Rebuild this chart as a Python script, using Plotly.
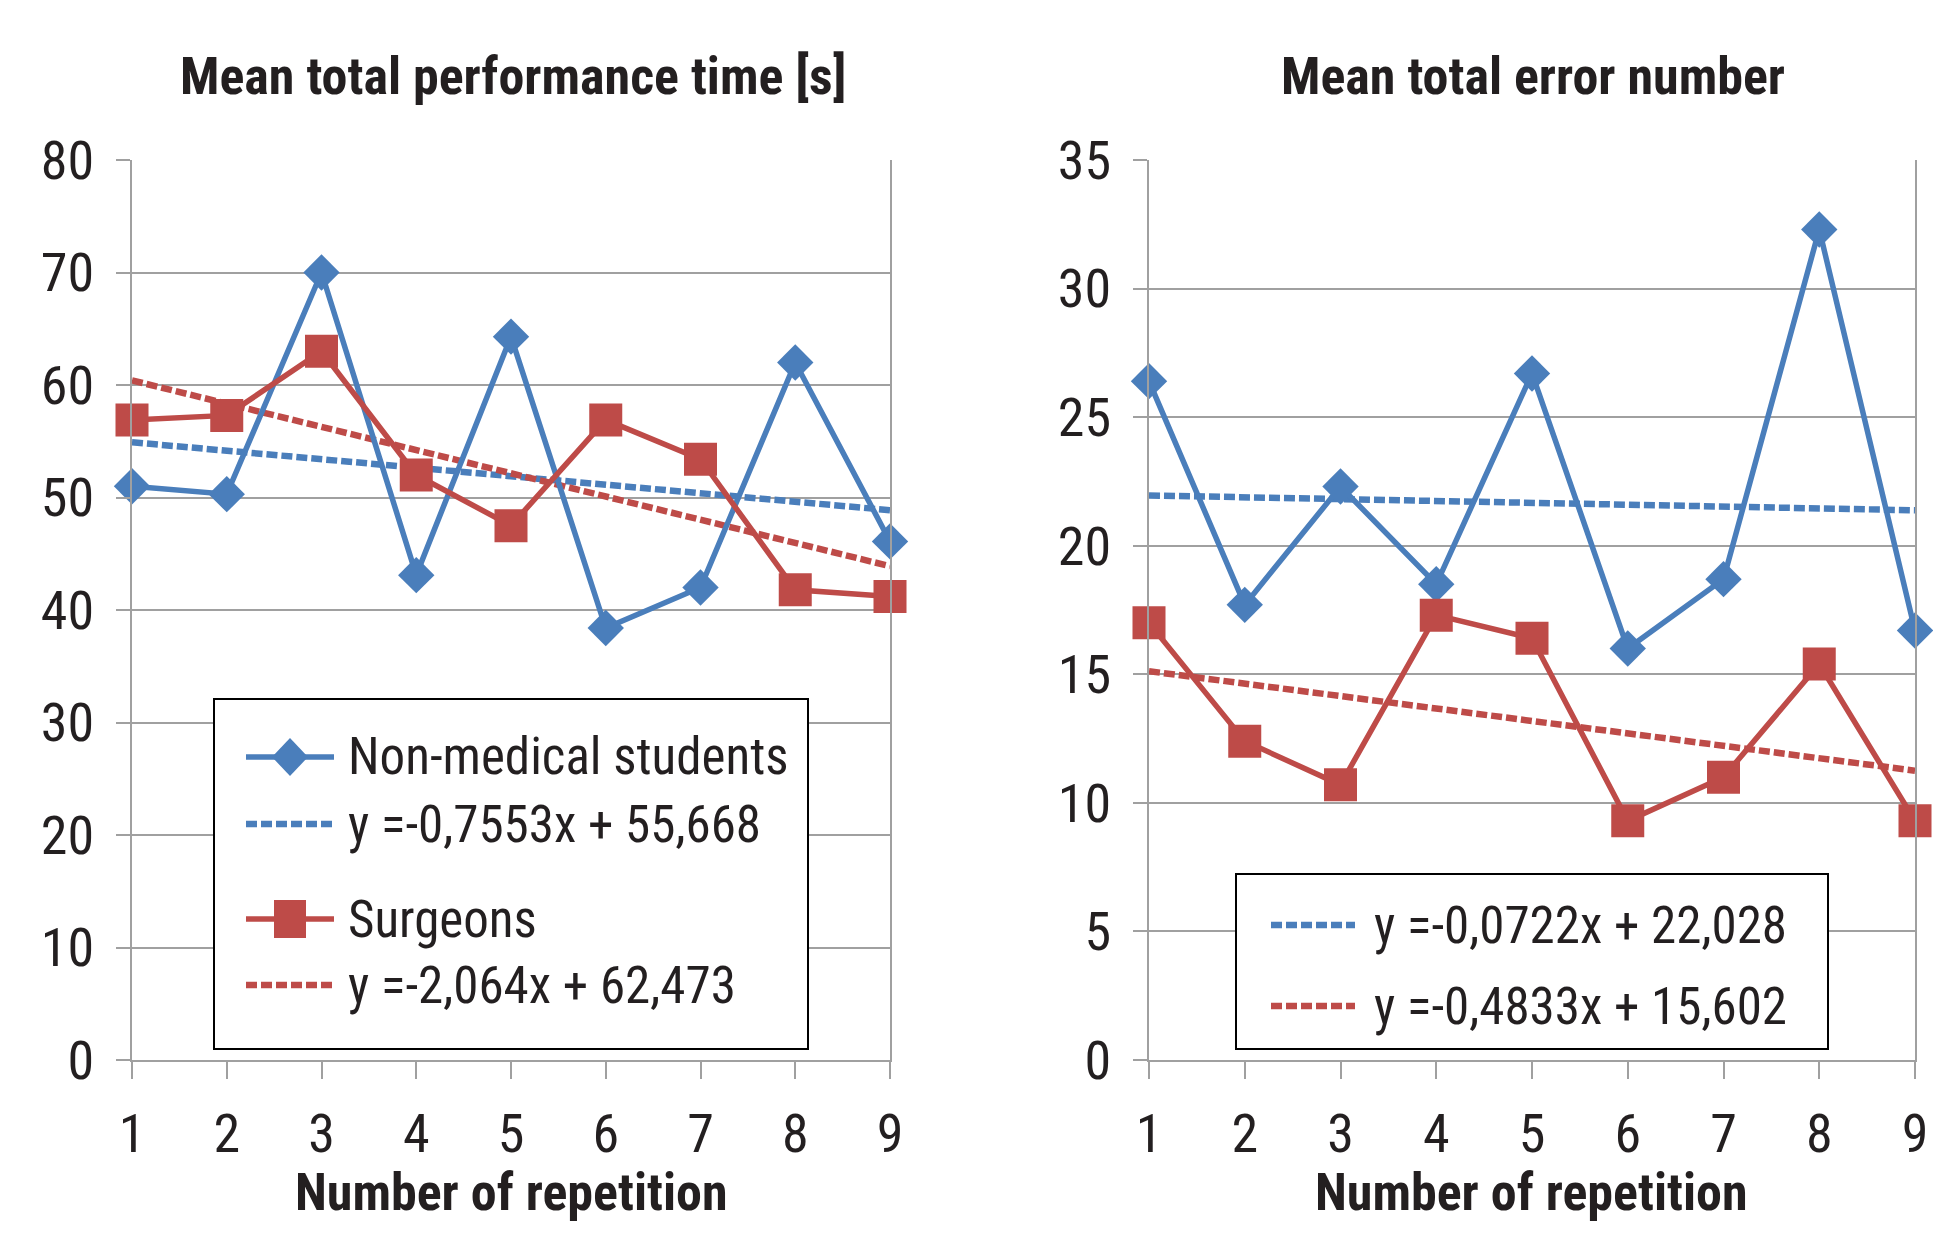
import plotly.graph_objects as go

# ---------------- data ----------------
reps = [1, 2, 3, 4, 5, 6, 7, 8, 9]
time_students = [51.0, 50.3, 70.0, 43.1, 64.3, 38.4, 42.0, 62.0, 46.1]
time_surgeons = [56.9, 57.3, 63.0, 52.0, 47.5, 56.9, 53.4, 41.8, 41.2]
err_students = [26.4, 17.7, 22.3, 18.5, 26.7, 16.0, 18.7, 32.3, 16.7]
err_surgeons = [17.0, 12.4, 10.7, 17.3, 16.4, 9.3, 11.0, 15.4, 9.3]

time_trend_slope = [-0.7553, -2.064]
time_trend_intercept = [55.668, 62.473]
err_trend_slope = [-0.0722, -0.4833]
err_trend_intercept = [22.028, 15.602]

time_ticks = [0, 10, 20, 30, 40, 50, 60, 70, 80]
err_ticks = [0, 5, 10, 15, 20, 25, 30, 35]

series_names = ["Non-medical students", "Surgeons"]
time_eq_labels = ["y =-0,7553x + 55,668", "y =-2,064x + 62,473"]
err_eq_labels = ["y =-0,0722x + 22,028", "y =-0,4833x + 15,602"]
titles = ["Mean total performance time [s]", "Mean total error number"]
x_title = "Number of repetition"

# ---------------- style ----------------
BLUE = "#4A7EBB"
RED = "#BE4B48"
GRID = "#A0A0A0"
TXT = "#231F20"
FONT = "Roboto Condensed, DejaVu Sans Condensed, sans-serif"
DASH = "11px,4px"

W, H, OFF = 1925, 1217, 8


def fx(p):
    return (p - OFF) / W


def fy(p):
    return 1 - (p - OFF) / H


fig = go.Figure()


def trend(slope, icpt):
    return [slope * r + icpt for r in reps]


def add_series(xa, ya, students, surgeons, slopes, icpts):
    fig.add_trace(go.Scatter(x=reps, y=trend(slopes[0], icpts[0]), xaxis=xa, yaxis=ya,
                             mode="lines", line=dict(color=BLUE, width=6.5, dash=DASH),
                             showlegend=False, hoverinfo="skip", cliponaxis=False))
    fig.add_trace(go.Scatter(x=reps, y=trend(slopes[1], icpts[1]), xaxis=xa, yaxis=ya,
                             mode="lines", line=dict(color=RED, width=6.5, dash=DASH),
                             showlegend=False, hoverinfo="skip", cliponaxis=False))
    fig.add_trace(go.Scatter(x=reps, y=students, xaxis=xa, yaxis=ya, name=series_names[0],
                             mode="lines+markers", line=dict(color=BLUE, width=5.5),
                             marker=dict(symbol="diamond", size=28, color=BLUE),
                             showlegend=False, cliponaxis=False))
    fig.add_trace(go.Scatter(x=reps, y=surgeons, xaxis=xa, yaxis=ya, name=series_names[1],
                             mode="lines+markers", line=dict(color=RED, width=5.5),
                             marker=dict(symbol="square", size=33, color=RED),
                             showlegend=False, cliponaxis=False))


add_series("x", "y", time_students, time_surgeons, time_trend_slope, time_trend_intercept)
add_series("x2", "y2", err_students, err_surgeons, err_trend_slope, err_trend_intercept)

tickfont = dict(family=FONT, size=54, color=TXT)
xcommon = dict(range=[1, 9], tickvals=reps, ticks="outside", ticklen=17, tickwidth=2,
               tickcolor=GRID, showline=True, linecolor=GRID, linewidth=2,
               showgrid=False, zeroline=False, tickfont=tickfont, ticklabelstandoff=8,
               fixedrange=True, automargin=False)
ycommon = dict(ticks="outside", ticklen=14, tickwidth=2, tickcolor=GRID,
               showline=True, mirror=True, linecolor=GRID, linewidth=2,
               showgrid=True, gridcolor=GRID, gridwidth=2, zeroline=False,
               tickfont=tickfont, ticklabelstandoff=11, fixedrange=True, automargin=False)

ydom = [fy(1060), fy(160)]
fig.update_layout(
    xaxis=dict(domain=[fx(132), fx(890)], anchor="y", **xcommon),
    yaxis=dict(domain=ydom, anchor="x", range=[0, 80], tickvals=time_ticks, **ycommon),
    xaxis2=dict(domain=[fx(1149), fx(1915)], anchor="y2", **xcommon),
    yaxis2=dict(domain=ydom, anchor="x2", range=[0, 35], tickvals=err_ticks, **ycommon),
)

annotations = []
shapes = []

# titles
for txt, cx in zip(titles, [513, 1533]):
    annotations.append(dict(text="<b>%s</b>" % txt, x=fx(cx), y=fy(76), xref="paper", yref="paper",
                            xanchor="center", yanchor="middle", showarrow=False,
                            font=dict(family=FONT, size=52, color=TXT)))
for cx in [511, 1531]:
    annotations.append(dict(text="<b>%s</b>" % x_title, x=fx(cx), y=0, xref="paper", yref="paper",
                            xanchor="center", yanchor="bottom", showarrow=False,
                            font=dict(family=FONT, size=52, color=TXT)))


def legend_box(x0, y0, x1, y1):
    shapes.append(dict(type="rect", xref="paper", yref="paper", x0=fx(x0), x1=fx(x1),
                       y0=fy(y0), y1=fy(y1), line=dict(color="#000000", width=2),
                       fillcolor="white", layer="above"))


def legend_line(x0, x1, yc, color, dash):
    shapes.append(dict(type="line", xref="paper", yref="paper", x0=fx(x0), x1=fx(x1),
                       y0=fy(yc), y1=fy(yc),
                       line=dict(color=color, width=6.5 if dash != "solid" else 5.5, dash=dash),
                       layer="above"))


def legend_marker(xc, yc, kind, color):
    if kind == "diamond":
        path = "M -18 0 L 0 19 L 18 0 L 0 -19 Z"
    else:
        path = "M -16 -19 L 16 -19 L 16 19 L -16 19 Z"
    shapes.append(dict(type="path", xref="paper", yref="paper", xsizemode="pixel", ysizemode="pixel",
                       xanchor=fx(xc), yanchor=fy(yc), path=path, fillcolor=color,
                       line=dict(width=0), layer="above"))


def legend_text(x, yc, txt):
    annotations.append(dict(text=txt, x=fx(x), y=fy(yc), xref="paper", yref="paper",
                            xanchor="left", yanchor="middle", showarrow=False,
                            font=dict(family=FONT, size=51, color=TXT)))


# left legend
legend_box(214, 699, 808, 1049)
legend_line(246, 334, 757, BLUE, "solid")
legend_marker(290, 757, "diamond", BLUE)
legend_text(346, 757, series_names[0])
legend_line(246, 334, 824, BLUE, DASH)
legend_text(346, 824, time_eq_labels[0])
legend_line(246, 334, 919, RED, "solid")
legend_marker(290, 919, "square", RED)
legend_text(346, 919, series_names[1])
legend_line(246, 334, 985, RED, DASH)
legend_text(346, 985, time_eq_labels[1])

# right legend
legend_box(1236, 874, 1828, 1049)
legend_line(1271, 1355, 925, BLUE, DASH)
legend_text(1372, 925, err_eq_labels[0])
legend_line(1271, 1355, 1006, RED, DASH)
legend_text(1372, 1006, err_eq_labels[1])

fig.update_layout(
    width=W, height=H, margin=dict(l=0, r=0, t=0, b=0, autoexpand=False),
    paper_bgcolor="white", plot_bgcolor="white",
    annotations=annotations, shapes=shapes,
    font=dict(family=FONT, color=TXT),
)

fig.write_html("out.html")
